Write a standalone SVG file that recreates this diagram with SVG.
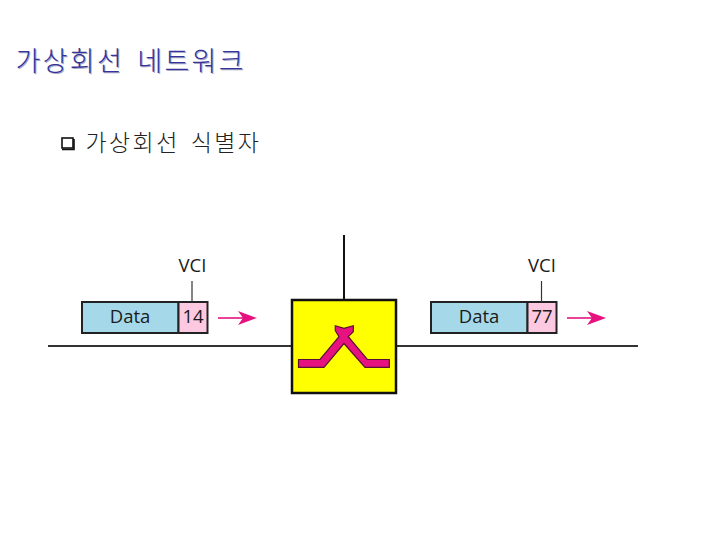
<svg xmlns="http://www.w3.org/2000/svg" width="720" height="540" viewBox="0 0 720 540">
<style>
.ko{font-family:"Noto Sans CJK KR","Noto Sans",sans-serif;font-weight:300}
.t{font-size:27px;fill:#33339a;letter-spacing:2.300px;word-spacing:5px}
.s{fill:#a9a9c6}
.b{font-size:23px;fill:#222;letter-spacing:2.400px;word-spacing:3.500px}
.l{font-family:"Open Sans","Liberation Sans",sans-serif;font-size:18.500px;fill:#1a1a1a;text-anchor:middle}
.data{fill:#a5d9e9;stroke:#222;stroke-width:2}
.vci{fill:#fcc9e0;stroke:#222;stroke-width:2}
.stem{stroke:#333;stroke-width:1.2;fill:none}
.line{stroke:#333;stroke-width:2;fill:none}
.arr{stroke:#e6127f;stroke-width:1.6;fill:none}
.head{fill:#e6127f}
</style>
<rect width="720" height="540" fill="#fff"/>
<g id="title">
<text class="ko t s" x="16.500" y="72">가상회선 네트워크</text>
<text class="ko t" x="15.500" y="71">가상회선 네트워크</text>
</g>
<g id="bullet">
<rect x="62" y="138" width="11" height="10" fill="#fff" stroke="#111" stroke-width="1.6"/>
<path d="M62 149.500H74V139" fill="none" stroke="#111" stroke-width="1.600"/>
<text class="ko b" x="85.500" y="151">가상회선 식별자</text>
</g>
<g id="connectors">
<line class="line" x1="48" y1="346" x2="292" y2="346"/>
<line class="line" x1="396" y1="346" x2="638" y2="346"/>
<line x1="344" y1="235" x2="344" y2="300" stroke="#111" stroke-width="2"/>
</g>
<g id="switch">
<rect x="292" y="300" width="104" height="93" fill="#ffff00" stroke="#111" stroke-width="2.500"/>
<path d="M298.500 359.500H320L339 336.700L335.300 330.700V325.700L344 328.300L353.300 325.700V331.700L348.300 336.700L367.300 359.500H389.300V367.300H365L344 343.500L324 367.300H298.500Z" fill="#e6127f" stroke="#5a1030" stroke-width="1.200"/>
</g>
<g id="packet-left">
<rect class="data" x="82" y="302" width="96.500" height="31"/>
<rect class="vci" x="178.500" y="302" width="29" height="31"/>
<line class="stem" x1="192" y1="281" x2="192" y2="302"/>
<text class="l" x="192.500" y="272">VCI</text>
<text class="l" x="130" y="323">Data</text>
<text class="l" x="193" y="323">14</text>
<line class="arr" x1="218" y1="318" x2="245" y2="318"/>
<path class="head" d="M257 318L238 311L243 318L238 325Z"/>
</g>
<g id="packet-right">
<rect class="data" x="431" y="302" width="96.500" height="31"/>
<rect class="vci" x="527.500" y="302" width="29" height="31"/>
<line class="stem" x1="541.500" y1="281" x2="541.500" y2="302"/>
<text class="l" x="542" y="272">VCI</text>
<text class="l" x="479" y="323">Data</text>
<text class="l" x="542" y="323">77</text>
<line class="arr" x1="567" y1="318" x2="594" y2="318"/>
<path class="head" d="M606 318L587 311L592 318L587 325Z"/>
</g>
</svg>
